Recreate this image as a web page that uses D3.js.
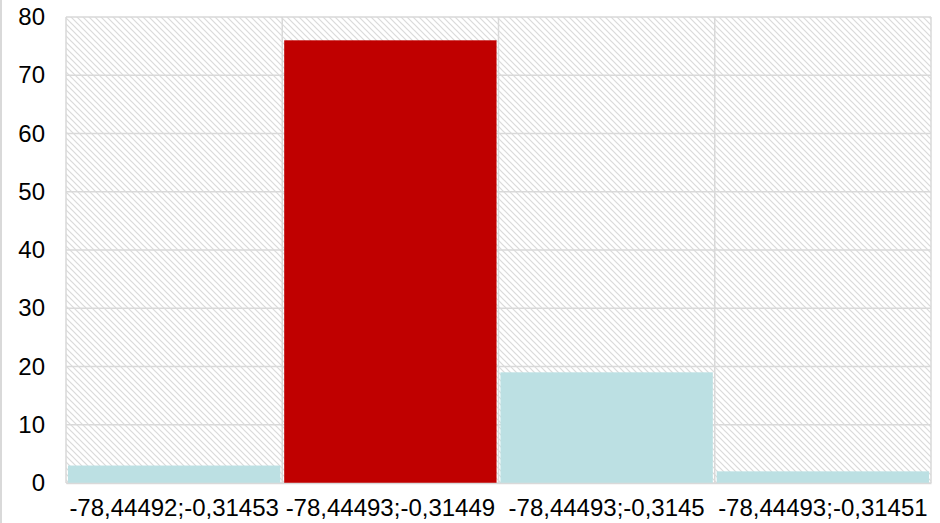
<!DOCTYPE html>
<html><head><meta charset="utf-8">
<script src="https://cdn.jsdelivr.net/npm/d3@7"></script>
<style>body{margin:0;background:#fff;}svg{display:block;}</style>
</head><body>
<script>
const categories = ["-78,44492;-0,31453", "-78,44493;-0,31449", "-78,44493;-0,3145", "-78,44493;-0,31451"];
const values = [3, 76, 19, 2];
const barColors = ["#bce0e3", "#c00000", "#bce0e3", "#bce0e3"];
const yTicks = [0, 10, 20, 30, 40, 50, 60, 70, 80];

const W = 940, H = 523;
const m = {left: 66, right: 9, top: 17, bottom: 40};
const FONT = "Liberation Sans, Arial, sans-serif";
const svg = d3.select("body").append("svg").attr("width", W).attr("height", H);

const defs = svg.append("defs");
const pat = defs.append("pattern").attr("id", "hatch").attr("patternUnits", "userSpaceOnUse")
  .attr("width", 6).attr("height", 6);
pat.append("rect").attr("width", 6).attr("height", 6).attr("fill", "#fff");
pat.append("path").attr("d", "M-1,-1 L7,7 M-1,5 L1,7 M5,-1 L7,1").attr("stroke", "#dadada").attr("stroke-width", 1.2);

// left frame line
svg.append("line").attr("x1", 1).attr("x2", 1).attr("y1", 0).attr("y2", H).attr("stroke", "#d9d9d9").attr("stroke-width", 2);

const x = d3.scaleBand().domain(categories).range([m.left, W - m.right]).paddingInner(0.018).paddingOuter(0.009);
const xb = d3.scaleBand().domain(categories).range([m.left, W - m.right]);
const y = d3.scaleLinear().domain([0, 80]).range([H - m.bottom, m.top]);

svg.append("rect").attr("x", m.left).attr("y", m.top)
  .attr("width", W - m.right - m.left).attr("height", H - m.bottom - m.top)
  .attr("fill", "url(#hatch)");

// horizontal grid
svg.append("g").selectAll("line").data(yTicks).join("line")
  .attr("x1", m.left).attr("x2", W - m.right)
  .attr("y1", d => y(d)).attr("y2", d => y(d))
  .attr("stroke", "#d9d9d9").attr("stroke-width", 1.5);
// vertical grid
const vgrid = categories.map(c => xb(c)).concat([W - m.right]);
svg.append("g").selectAll("line").data(vgrid).join("line")
  .attr("x1", d => d).attr("x2", d => d)
  .attr("y1", m.top).attr("y2", H - m.bottom)
  .attr("stroke", "#d9d9d9").attr("stroke-width", 1.5);

svg.append("g").selectAll("rect").data(values).join("rect")
  .attr("x", (d, i) => x(categories[i]))
  .attr("width", x.bandwidth())
  .attr("y", d => y(d))
  .attr("height", d => y(0) - y(d))
  .attr("fill", (d, i) => barColors[i]);

// axes
const yAxis = svg.append("g").attr("transform", `translate(${m.left},0)`)
  .call(d3.axisLeft(y).tickValues(yTicks).tickSize(0).tickPadding(21));
yAxis.select(".domain").remove();
yAxis.attr("font-size", 24).attr("font-family", FONT);
yAxis.selectAll("text").style("font-size", "24px").style("font-family", FONT).attr("fill", "#000");

const xAxis = svg.append("g").attr("transform", `translate(0,${H - m.bottom})`)
  .call(d3.axisBottom(xb).tickSize(0).tickPadding(16));
xAxis.select(".domain").attr("stroke", "#d9d9d9").attr("stroke-width", 1.5);
xAxis.attr("font-size", 24).attr("font-family", FONT);
xAxis.selectAll("text").style("font-size", "24px").style("font-family", FONT).attr("fill", "#000");
</script>
</body></html>
